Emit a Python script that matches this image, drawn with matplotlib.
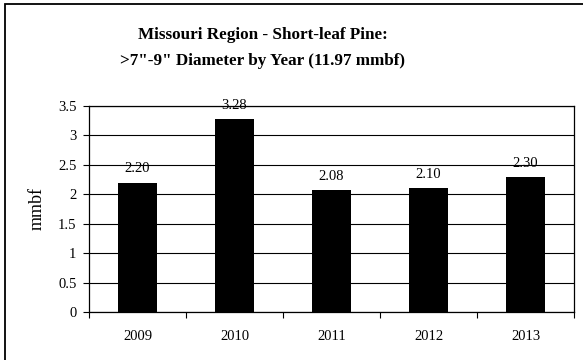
import matplotlib
matplotlib.use("Agg")
import matplotlib.pyplot as plt
from matplotlib.patches import Rectangle

years = ["2009", "2010", "2011", "2012", "2013"]
values = [2.20, 3.28, 2.08, 2.10, 2.30]
yticks = [0, 0.5, 1, 1.5, 2, 2.5, 3, 3.5]
ytick_labels = ["0", "0.5", "1", "1.5", "2", "2.5", "3", "3.5"]

plt.rcParams["font.family"] = ["Liberation Serif", "DejaVu Serif"]

W, H = 583, 360
fig = plt.figure(figsize=(W / 100, H / 100), dpi=100)

# outer chart frame (runs off the right and bottom edges)
fig.patches.append(Rectangle((4.5 / W, -0.05), 1.1, 1 - 4.5 / H + 0.05,
                             transform=fig.transFigure, fill=False,
                             edgecolor="black", linewidth=1.3))

left, right, top, bottom = 89, 574, 106, 312
ax = fig.add_axes([left / W, 1 - bottom / H, (right - left) / W, (bottom - top) / H])

x = list(range(len(years)))
ax.bar(x, values, width=0.41, color="black", zorder=3)
for xi, v in zip(x, values):
    ax.text(xi, v + 0.12, f"{v:.2f}", ha="center", va="bottom", fontsize=10.5)

ax.set_xlim(-0.5, len(years) - 0.5)
ax.set_ylim(0, 3.5)
ax.set_yticks(yticks)
ax.set_yticklabels(ytick_labels, fontsize=10.5)
ax.set_xticks(x)
ax.set_xticklabels(years, fontsize=10.5)
ax.tick_params(axis="x", length=0, pad=13)
ax.set_xticks([i - 0.5 for i in range(len(years) + 1)], minor=True)
ax.tick_params(axis="x", which="minor", length=4, width=0.8, direction="out")
ax.tick_params(axis="y", length=4, width=0.8, direction="out", pad=5)
ax.yaxis.grid(True, color="black", linewidth=0.8, zorder=0)
ax.set_axisbelow(True)
for s in ax.spines.values():
    s.set_linewidth(0.9)
ax.set_ylabel("mmbf", fontsize=13, labelpad=9)

fig.text(263 / W, 1 - 48 / H,
         "Missouri Region - Short-leaf Pine:\n>7\"-9\" Diameter by Year (11.97 mmbf)",
         ha="center", va="center", fontsize=12.3, fontweight="bold", linespacing=1.8)

fig.savefig("out.png", dpi=100)
